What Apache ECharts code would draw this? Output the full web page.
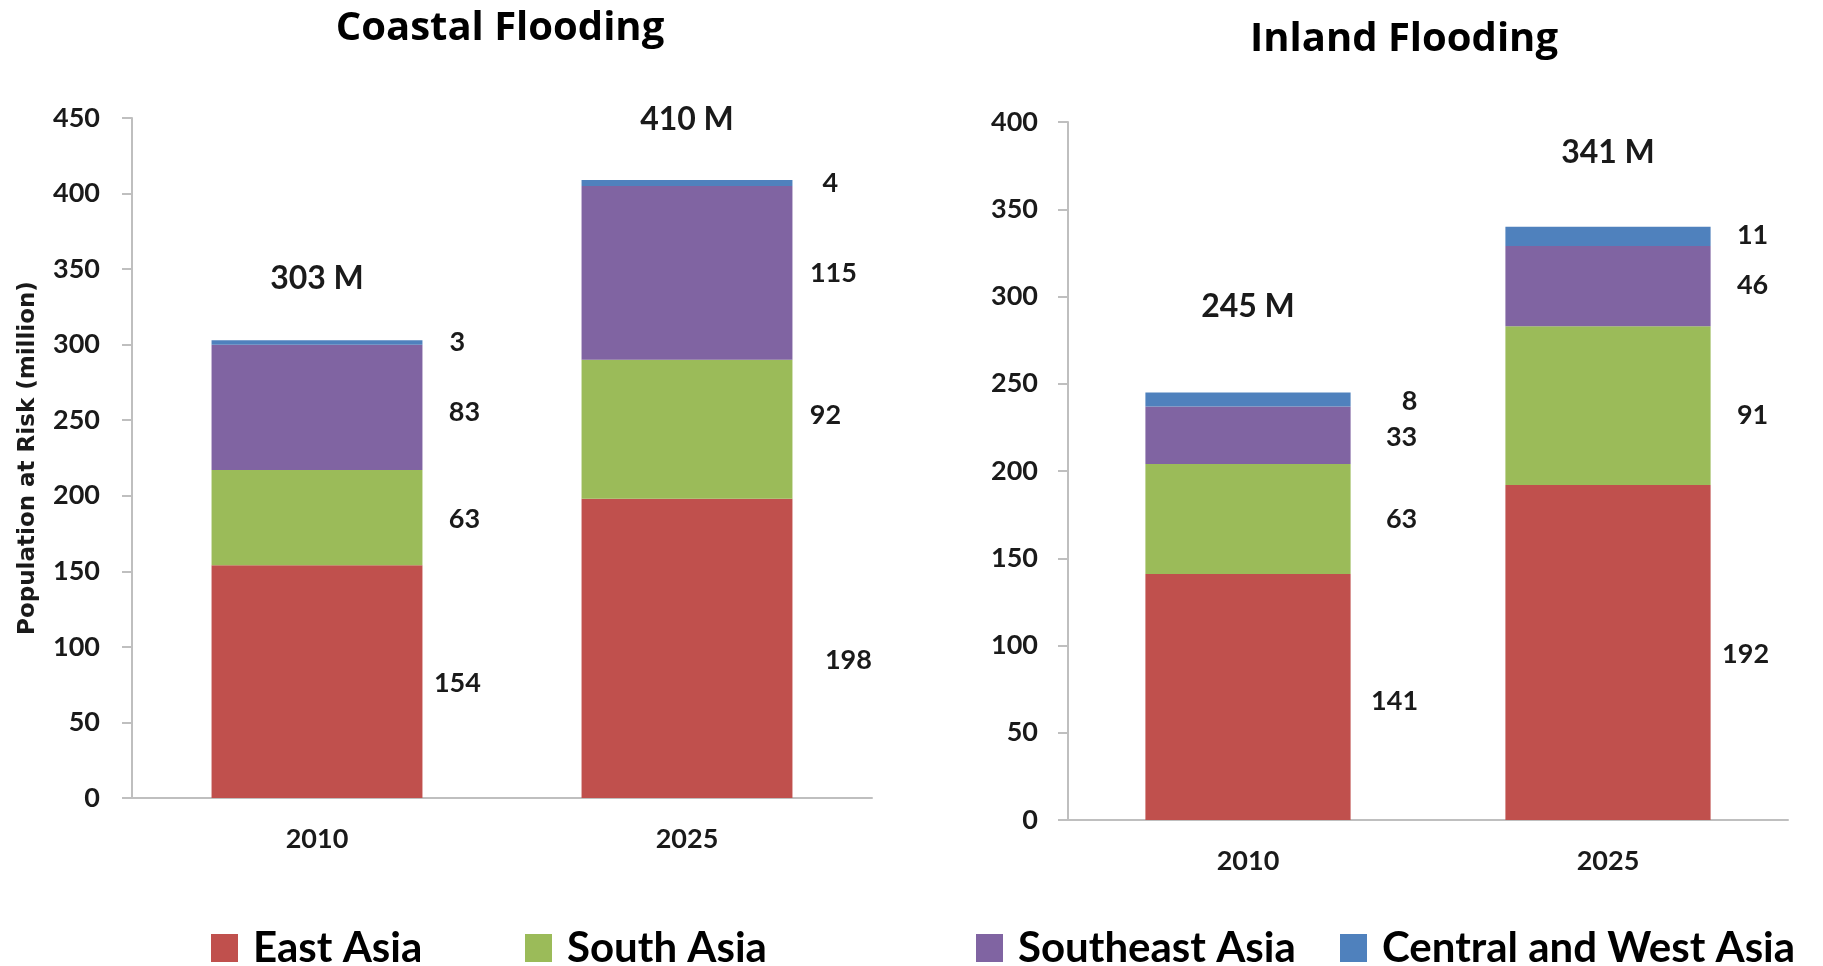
<!DOCTYPE html>
<html><head><meta charset="utf-8">
<script src="https://cdn.jsdelivr.net/npm/echarts@6/dist/echarts.min.js"></script>
<style>html,body{margin:0;padding:0;background:#fff}#c{width:1823px;height:966px}</style>
</head><body><div id="c"></div>
<script>
// ---- data ----
const years = ['2010', '2025'];
const regions = ['East Asia', 'South Asia', 'Southeast Asia', 'Central and West Asia'];
const coastalEast = [154, 198];
const coastalSouth = [63, 92];
const coastalSoutheast = [83, 115];
const coastalCentralWest = [3, 4];
const coastalTotals = [303, 410];
const inlandEast = [141, 192];
const inlandSouth = [63, 91];
const inlandSoutheast = [33, 46];
const inlandCentralWest = [8, 11];
const inlandTotals = [245, 341];
const coastalAxis = { min: 0, max: 450, interval: 50 };
const inlandAxis = { min: 0, max: 400, interval: 50 };
const titles = ['Coastal Flooding', 'Inland Flooding'];
const yAxisTitle = 'Population at Risk (million)';

// ---- styling ----
const colors = ['#C0504D', '#9BBB59', '#8064A2', '#4F81BD'];
const coastalLabelOffsets = [[[35, 2], [56, 12]], [[42, 2], [33, -14]], [[42, 5], [41, 0]], [[35, 0], [38, 0]]];
const inlandLabelOffsets = [[[44, 4], [35, 2]], [[51, 0], [42, 10]], [[51, 2], [42, -1]], [[59, 2], [42, -1]]];
const coastalTotalOffsets = [-61, -58];
const inlandTotalOffsets = [-85, -72];
const numFont = { fontFamily: 'Lato', fontWeight: 'bold', color: '#1a1a1a' };
const axisGray = '#bfbfbf';

function stackSeries(gridIdx, stack, lists, offsets) {
  return lists.map((vals, s) => ({
    name: regions[s], type: 'bar', stack: stack,
    xAxisIndex: gridIdx, yAxisIndex: gridIdx,
    barWidth: '57%',
    itemStyle: { color: colors[s] },
    label: Object.assign({
      show: true, position: ['100%', '50%'], align: 'center', verticalAlign: 'middle',
      fontSize: 27, formatter: '{c}'
    }, numFont),
    data: vals.map((v, i) => ({ value: v, label: { offset: offsets[s][i] } }))
  }));
}
function totalSeries(gridIdx, totals, offs) {
  return {
    type: 'scatter', xAxisIndex: gridIdx, yAxisIndex: gridIdx, symbolSize: 1, silent: true, z: 10,
    itemStyle: { color: 'rgba(0,0,0,0)', opacity: 1 },
    label: Object.assign({ show: true, position: 'top', distance: 0, align: 'center', verticalAlign: 'middle',
      fontSize: 32, formatter: '{c} M' }, numFont),
    data: totals.map((v, i) => ({ value: v, label: { offset: [0, offs[i]] } }))
  };
}
function xAx(g) {
  return {
    type: 'category', gridIndex: g, data: years,
    axisLine: { lineStyle: { color: axisGray, width: 2 } },
    axisTick: { show: false },
    axisLabel: Object.assign({ fontSize: 27, margin: 28 }, numFont)
  };
}
function yAx(g, ax, margin) {
  return Object.assign({
    type: 'value', gridIndex: g,
    axisLine: { show: true, lineStyle: { color: axisGray, width: 2 } },
    axisTick: { show: true, length: 10, lineStyle: { color: axisGray, width: 2 } },
    splitLine: { show: false },
    axisLabel: Object.assign({ fontSize: 27, margin: margin }, numFont)
  }, ax);
}
function legendItem(name, left) {
  return {
    data: [name], left: left, top: 922, icon: 'rect', itemWidth: 27, itemHeight: 28,
    selectedMode: false,
    textStyle: { fontFamily: 'Lato', fontWeight: 'bold', fontSize: 42, lineHeight: 42, color: '#000', padding: [0, 0, 0, 10] }
  };
}

const chart = echarts.init(document.getElementById('c'));
const yLeft = yAx(0, coastalAxis, 32);
yLeft.name = yAxisTitle;
yLeft.nameLocation = 'middle';
yLeft.nameGap = 92;
yLeft.nameTextStyle = { fontFamily: 'DejaVu Sans', fontWeight: 'bold', fontSize: 23, color: '#1a1a1a' };

chart.setOption({
  animation: false,
  grid: [
    { left: 132, width: 740, top: 118, height: 680 },
    { left: 1068, width: 720, top: 122, height: 698 }
  ],
  xAxis: [xAx(0), xAx(1)],
  yAxis: [yLeft, yAx(1, inlandAxis, 30)],
  legend: [
    legendItem(regions[0], 206),
    legendItem(regions[1], 520),
    legendItem(regions[2], 971),
    legendItem(regions[3], 1335)
  ],
  graphic: [
    { type: 'text', x: 500, y: 29, style: { text: titles[0], fontFamily: 'Open Sans', fontWeight: 'bold', fontSize: 40, fill: '#000', align: 'center', verticalAlign: 'middle' } },
    { type: 'text', x: 1404, y: 40, style: { text: titles[1], fontFamily: 'Open Sans', fontWeight: 'bold', fontSize: 40, fill: '#000', align: 'center', verticalAlign: 'middle' } }
  ],
  series: [].concat(
    stackSeries(0, 'coastal', [coastalEast, coastalSouth, coastalSoutheast, coastalCentralWest], coastalLabelOffsets),
    stackSeries(1, 'inland', [inlandEast, inlandSouth, inlandSoutheast, inlandCentralWest], inlandLabelOffsets),
    [totalSeries(0, coastalTotals, coastalTotalOffsets), totalSeries(1, inlandTotals, inlandTotalOffsets)]
  )
});
</script></body></html>
